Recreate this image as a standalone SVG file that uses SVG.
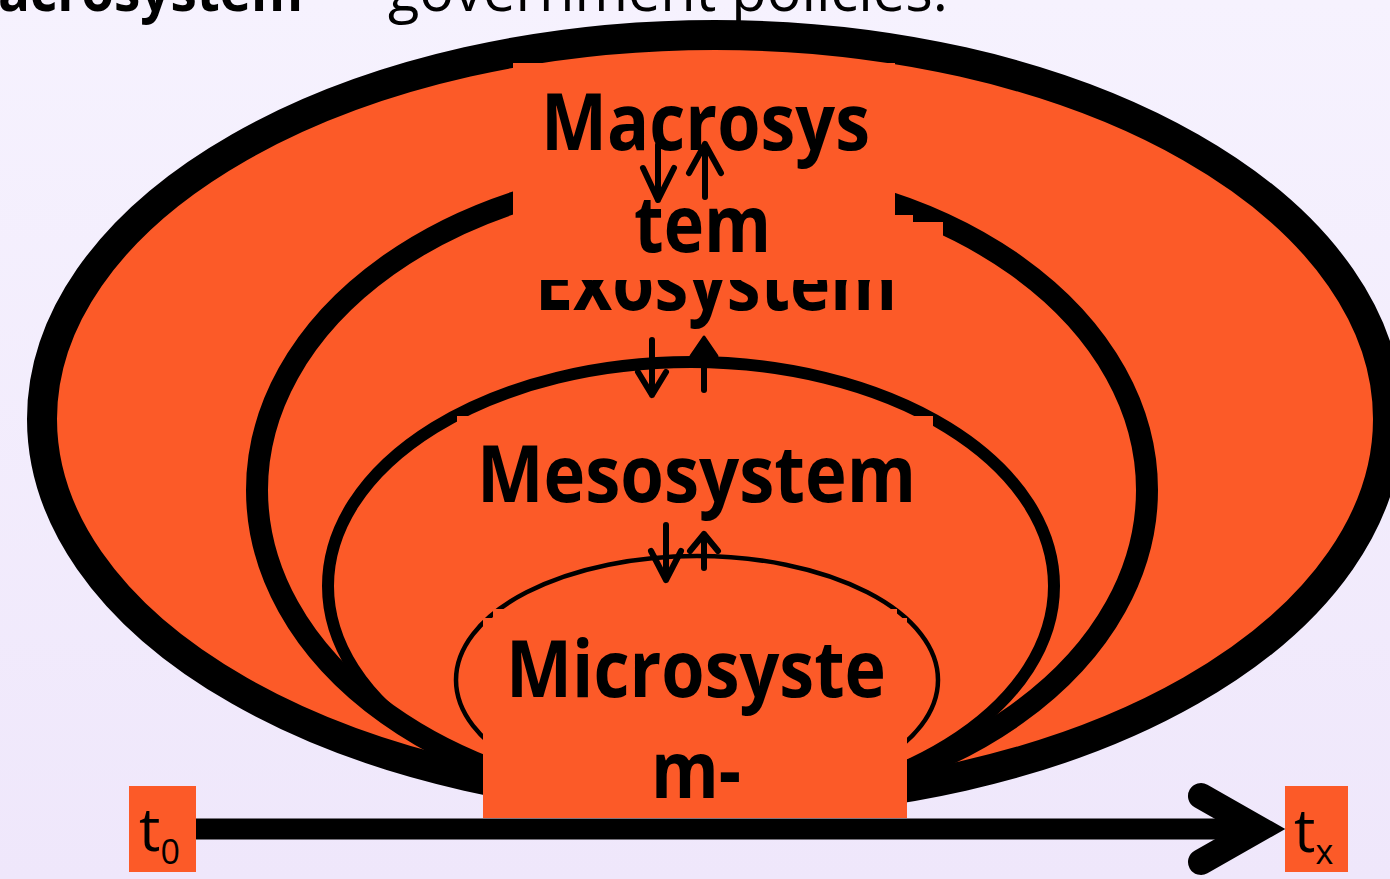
<svg xmlns="http://www.w3.org/2000/svg" width="1390" height="879" viewBox="0 0 1390 879">
<defs>
<linearGradient id="bg" x1="0" y1="0" x2="0" y2="1">
<stop offset="0" stop-color="#F6F2FE"/>
<stop offset="1" stop-color="#EFE7FB"/>
</linearGradient>
<style>
.or{fill:#FC5A28;}
.lbl{font-family:"Open Sans","Noto Sans","DejaVu Sans",sans-serif;font-weight:bold;font-size:78px;fill:#000;}
.hdr{font-family:"Open Sans","Noto Sans","DejaVu Sans",sans-serif;font-size:58px;fill:#000;}
.tl{font-family:"Open Sans","Noto Sans","DejaVu Sans",sans-serif;font-size:60px;fill:#000;}
.ring{stroke:#000;fill:none;}
.arr{stroke:#000;stroke-width:6;fill:none;stroke-linecap:round;stroke-linejoin:round;}
</style>
</defs>
<rect width="1390" height="879" fill="url(#bg)"/>
<g id="header">
<text class="hdr" x="-2" y="11" font-weight="bold" textLength="305" lengthAdjust="spacingAndGlyphs">acrosystem</text>
<text class="hdr" x="388" y="11" textLength="560" lengthAdjust="spacingAndGlyphs">government policies.</text>
</g>
<g id="rings">
<ellipse class="or" cx="715" cy="419" rx="673" ry="384" stroke="#000" stroke-width="30"/>
<ellipse class="ring" cx="702" cy="490" rx="445" ry="317" stroke-width="22"/>
<ellipse class="ring" cx="691" cy="586" rx="363" ry="224" stroke-width="12"/>
<ellipse class="ring" cx="697" cy="680" rx="241" ry="124" stroke-width="4.5"/>
</g>
<g id="exosystem">
<rect class="or" x="513" y="215" width="400" height="125"/>
<rect class="or" x="513" y="222" width="430" height="110"/>
<text class="lbl" x="535" y="310" textLength="362" lengthAdjust="spacingAndGlyphs">Exosystem</text>
</g>
<g id="macrosystem">
<rect class="or" x="513" y="63" width="382" height="217"/>
<text class="lbl" x="541" y="150" textLength="329" lengthAdjust="spacingAndGlyphs">Macrosys</text>
<text class="lbl" x="634" y="252" textLength="137" lengthAdjust="spacingAndGlyphs">tem</text>
</g>
<g id="mesosystem">
<rect class="or" x="457" y="416" width="476" height="110"/>
<text class="lbl" x="477" y="502" textLength="439" lengthAdjust="spacingAndGlyphs">Mesosystem</text>
</g>
<g id="microsystem">
<rect class="or" x="483" y="618" width="424" height="200"/>
<rect class="or" x="493" y="609" width="404" height="209"/>
<text class="lbl" x="506" y="697" textLength="380" lengthAdjust="spacingAndGlyphs">Microsyste</text>
<text class="lbl" x="651" y="798" textLength="90" lengthAdjust="spacingAndGlyphs">m-</text>
</g>
<g id="connectors">
<path class="arr" d="M658 145 V200 M643 168 L658 200 L674 168"/>
<path class="arr" d="M705 197 V144 M689 173 L705 144 L721 173"/>
<path class="arr" d="M652 340 V395 M638 372 L652 395 L666 372"/>
<path class="arr" d="M704 390 V350"/>
<path d="M691 356 L704 337 L717 356 Z" fill="#000" stroke="#000" stroke-width="3" stroke-linejoin="round"/>
<path class="arr" d="M666 525 V580 M651 551 L666 580 L681 551"/>
<path class="arr" d="M704 568 V534 M690 551 L704 534 L718 551"/>
<line x1="196" y1="829" x2="1262" y2="829" stroke="#000" stroke-width="21"/>
<polyline points="1201,796 1259,829 1201,862" fill="none" stroke="#000" stroke-width="26" stroke-linecap="round" stroke-linejoin="miter" stroke-miterlimit="10"/>
</g>
<g id="t0">
<rect class="or" x="129" y="786" width="67" height="86"/>
<text class="tl" x="139" y="851">t<tspan font-size="34" y="864">0</tspan></text>
</g>
<g id="tx">
<rect class="or" x="1285" y="786" width="63" height="86"/>
<text class="tl" x="1294" y="852">t<tspan font-size="34" y="864">x</tspan></text>
</g>
</svg>
